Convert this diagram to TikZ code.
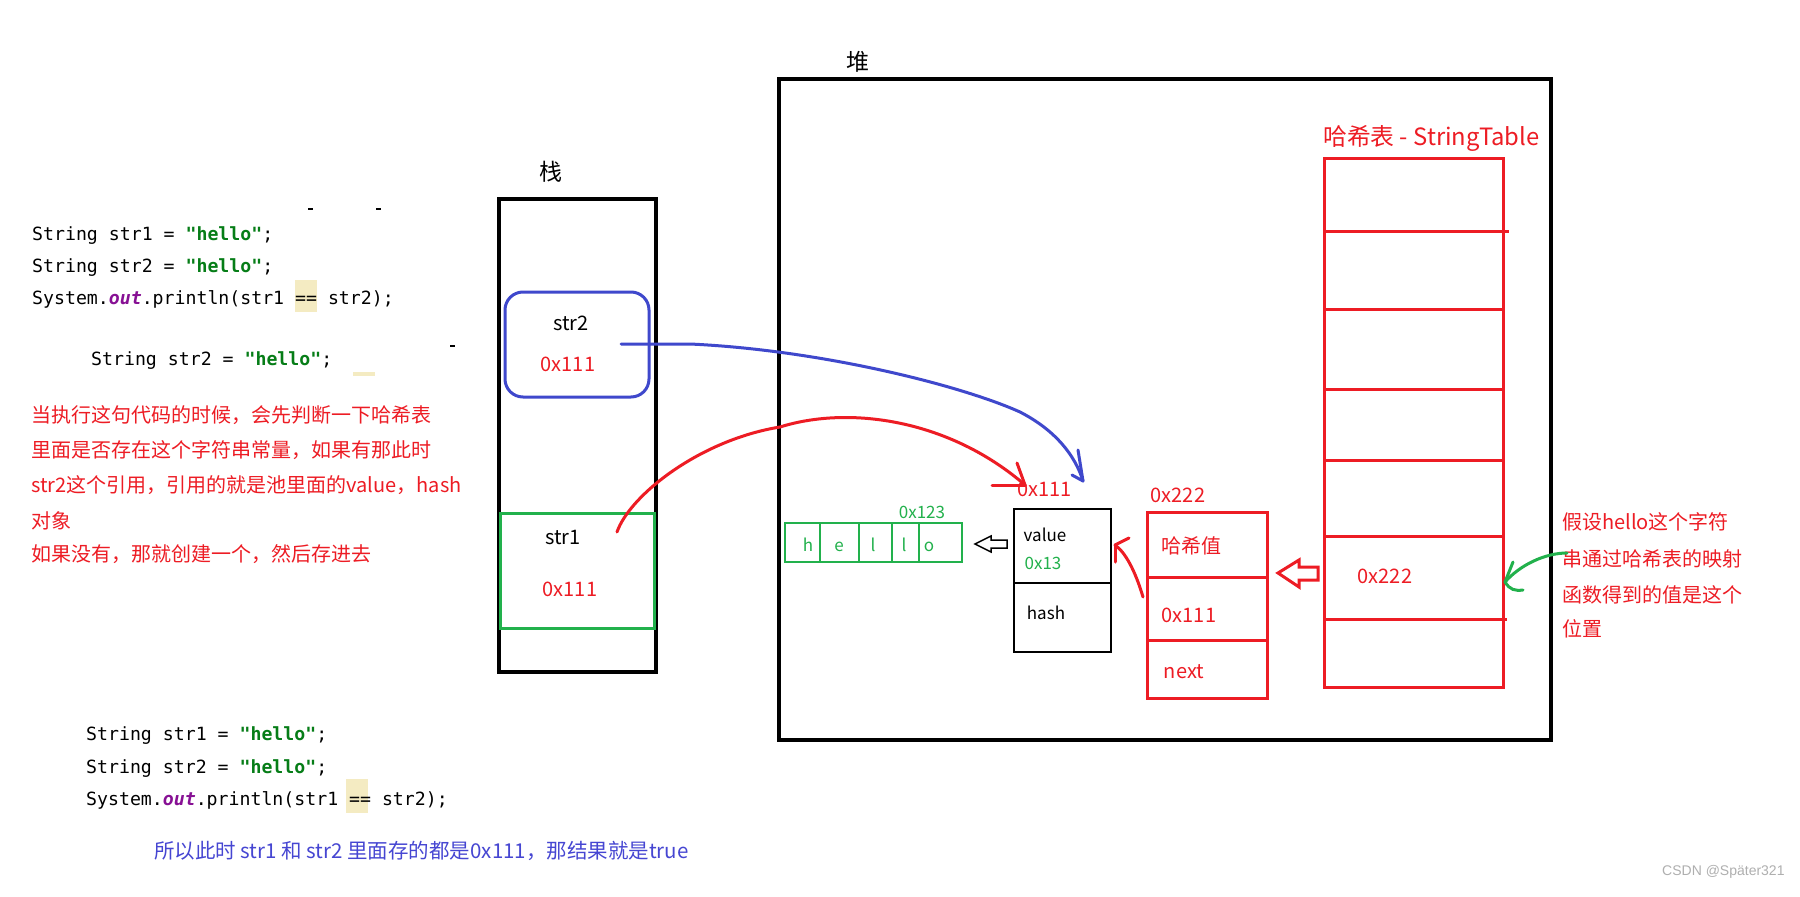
\documentclass[tikz,border=0pt]{standalone}
\usepackage{fontspec}
\setmainfont{Noto Sans CJK SC}
\newfontfamily\cjkfont{Noto Sans CJK SC}
\newfontfamily\codefont{DejaVu Sans Mono}
\newfontfamily\wmfont{Liberation Sans}
\usetikzlibrary{arrows.meta}
\definecolor{pred}{RGB}{237,28,36}
\definecolor{pblue}{RGB}{63,72,204}
\definecolor{pgreen}{RGB}{34,177,76}
\definecolor{cgreen}{RGB}{6,125,23}
\definecolor{cpurple}{RGB}{135,16,148}
\definecolor{hl}{RGB}{244,235,194}
\definecolor{tblue}{RGB}{70,70,210}
\definecolor{wmgray}{RGB}{175,175,175}
\newcommand{\javastr}{\textcolor{cgreen}{\bfseries"hello"}}
\newcommand{\outkw}{\textcolor{cpurple}{\bfseries\itshape out}}
\tikzset{
  codeline/.style={anchor=base west, inner sep=0pt, font=\codefont\fontsize{18.2}{22}\selectfont},
  note/.style={anchor=base west, inner sep=0pt, text=pred, font=\cjkfont\fontsize{20}{24}\selectfont},
  lbl/.style={inner sep=0pt, font=\cjkfont\fontsize{20}{24}\selectfont},
  slbl/.style={inner sep=0pt, font=\cjkfont\fontsize{17}{20}\selectfont},
  title/.style={inner sep=0pt, font=\cjkfont\fontsize{23}{26}\selectfont},
  blkbox/.style={draw=black, line width=3.5pt, inner sep=0pt},
  thinbox/.style={draw=black, line width=2.5pt, inner sep=0pt},
  redbox/.style={draw=pred, line width=3pt, inner sep=0pt},
  grnbox/.style={draw=pgreen, line width=3pt, inner sep=0pt},
  redline/.style={draw=pred, line width=3pt},
  blueline/.style={draw=pblue, line width=3pt},
  greenline/.style={draw=pgreen, line width=3pt},
}
\begin{document}
\begin{tikzpicture}[x=1pt,y=-1pt]
\useasboundingbox (0,0) rectangle (1800,897);
\fill[white] (0,0) rectangle (1800,897);

% ---- code highlights and small marks
\fill[hl] (295,280) rectangle (317,312);
\fill[hl] (346,779) rectangle (368,813);
\fill[hl] (353,372) rectangle (375,376);
\draw[line width=1.5pt] (308,209) -- (313,209);
\draw[line width=1.5pt] (376,209) -- (381,209);
\draw[line width=1.5pt] (450,346) -- (455,346);

% ---- top code block
\node[codeline] (c1) at (32,240) {String str1 = \javastr;};
\node[codeline] (c2) at (32,272) {String str2 = \javastr;};
\node[codeline] (c3) at (32,304) {System.\outkw.println(str1 == str2);};
\node[codeline] (c4) at (91,365) {String str2 = \javastr;};

% ---- red explanation
\node[note] (n1) at (31,422) {当执行这句代码的时候，会先判断一下哈希表};
\node[note] (n2) at (31,457) {里面是否存在这个字符串常量，如果有那此时};
\node[note] (n3) at (31,492) {str2这个引用，引用的就是池里面的value，hash};
\node[note] (n4) at (31,528) {对象};
\node[note] (n5) at (31,561) {如果没有，那就创建一个，然后存进去};

% ---- bottom code block
\node[codeline] (d1) at (86,740) {String str1 = \javastr;};
\node[codeline] (d2) at (86,773) {String str2 = \javastr;};
\node[codeline] (d3) at (86,805) {System.\outkw.println(str1 == str2);};
\node[anchor=base west, inner sep=0pt, text=tblue, font=\cjkfont\fontsize{20.5}{24}\selectfont] (concl) at (154,858) {所以此时 str1 和 str2 里面存的都是0x111，那结果就是true};

% ---- stack
\node[title] (stk) at (551,172) {栈};
\node[blkbox, minimum width=157pt, minimum height=473pt] (stack) at (577.5,435.5) {};
\node[draw=pblue, line width=3pt, rounded corners=18pt, inner sep=0pt, minimum width=144pt, minimum height=105pt] (s2box) at (577,344.5) {};
\node[lbl] (s2name) at (571,323) {str2};
\node[lbl, text=pred] (s2val) at (568,364) {0x111};
\node[grnbox, minimum width=154pt, minimum height=115pt] (s1box) at (577,570.5) {};
\node[lbl] (s1name) at (563,537) {str1};
\node[lbl, text=pred] (s1val) at (570,589) {0x111};

% ---- heap
\node[title] (hp) at (858,62) {堆};
\node[blkbox, minimum width=772pt, minimum height=661pt] (heap) at (1165,409.5) {};

% hello char array
\node[draw=pgreen, line width=2.5pt, inner sep=0pt, minimum width=177pt, minimum height=39pt] (arr) at (873.5,542.5) {};
\foreach \xx in {820,859,892,919} \draw[pgreen, line width=2.5pt] (\xx,523) -- (\xx,562);
\foreach \ch/\xx [count=\i] in {h/808,e/839,l/873,l/904,o/929}
  \node[slbl, text=pgreen, anchor=base] (ch\i) at (\xx,551) {\ch};
\node[slbl, text=pgreen] (arraddr) at (922,512.5) {0x123};

% hollow black arrow
\draw[line width=1.5pt, line join=miter] (975,544) -- (991,536) -- (991,540) -- (1007,540) -- (1007,548) -- (991,548) -- (991,552) -- cycle;

% string object
\node[lbl, text=pred] (objaddr) at (1044.5,489) {0x111};
\node[thinbox, minimum width=97pt, minimum height=143pt] (obj) at (1062.5,580.5) {};
\draw[line width=2.5pt] (1014,583) -- (1111,583);
\node[slbl] (objval) at (1045,535) {value};
\node[slbl, text=pgreen] (objval2) at (1043,563.5) {0x13};
\node[slbl] (objhash) at (1046,612.5) {hash};

% entry
\node[lbl, text=pred] (entaddr) at (1178,495.5) {0x222};
\node[redbox, minimum width=120pt, minimum height=186pt] (entry) at (1207,605) {};
\draw[redline] (1147,577) -- (1269,577);
\draw[redline] (1147,640) -- (1269,640);
\node[lbl, text=pred] (enthash) at (1191,546) {哈希值};
\node[lbl, text=pred] (entval) at (1189,615.5) {0x111};
\node[lbl, text=pred] (entnext) at (1184,671.5) {next};

% hollow red arrow
\draw[redline, line join=miter] (1278,573) -- (1299,560) -- (1299,567) -- (1318,567) -- (1318,580) -- (1299,580) -- (1299,587) -- cycle;

% string table
\node[anchor=west, inner sep=0pt, text=pred, font=\cjkfont\fontsize{23.8}{28}\selectfont] (sttitle) at (1323,138) {哈希表 - StringTable};
\node[redbox, minimum width=179pt, minimum height=529pt] (table) at (1413.5,422.5) {};
\draw[redline] (1324,231) -- (1509,231);
\draw[redline] (1326,309) -- (1503,309);
\draw[redline] (1324,389) -- (1503,389);
\draw[redline] (1324,460) -- (1503,460);
\draw[redline] (1324,536) -- (1505,536);
\draw[redline] (1326,619) -- (1507,619);
\node[lbl, text=pred] (slot) at (1385,576.5) {0x222};

% right note
\node[note] (r1) at (1562,529.5) {假设hello这个字符};
\node[note] (r2) at (1562,566) {串通过哈希表的映射};
\node[note] (r3) at (1562,602) {函数得到的值是这个};
\node[note] (r4) at (1562,636) {位置};

% ---- connectors
\coordinate (bs) at (621,344);
\coordinate (bt) at (1083,481);
\draw[blueline, line cap=round] (bs) -- (690,344) .. controls (820,350) and (960,385) .. (1020,412) .. controls (1055,430) and (1075,455) .. (bt);
\draw[blueline, line cap=round] (bt) -- ++(-5,-31);
\draw[blueline, line cap=round] (bt) -- ++(-11,-6);

\coordinate (rs) at (617,532);
\coordinate (rt) at (1025,485);
\draw[redline, line cap=round] (rs) .. controls (630,495) and (700,440) .. (780,427) .. controls (850,405) and (950,420) .. (rt);
\draw[redline, line cap=round] (rt) -- ++(-33,0);
\draw[redline, line cap=round] (rt) -- ++(-8,-22);

\coordinate (es) at (1143,597);
\coordinate (et) at (1115,545);
\draw[redline, line cap=round] (es) .. controls (1135,570) and (1125,552) .. (et);
\draw[redline, line cap=round] (et) -- ++(0,17);
\draw[redline, line cap=round] (et) -- ++(14,-7);

\coordinate (gs) at (1567,553);
\coordinate (gt) at (1505,582);
\draw[greenline, line cap=round] (gs) .. controls (1545,553) and (1520,565) .. (gt);
\draw[greenline, line cap=round] (gt) -- ++(8,-20);
\draw[greenline, line cap=round] (gt) .. controls (1510,590) and (1515,591) .. ++(18,8);

% watermark
\node[anchor=west, inner sep=0pt, text=wmgray, font=\wmfont\fontsize{14}{16}\selectfont] (wm) at (1662,872) {CSDN @Später321};
\end{tikzpicture}
\end{document}
